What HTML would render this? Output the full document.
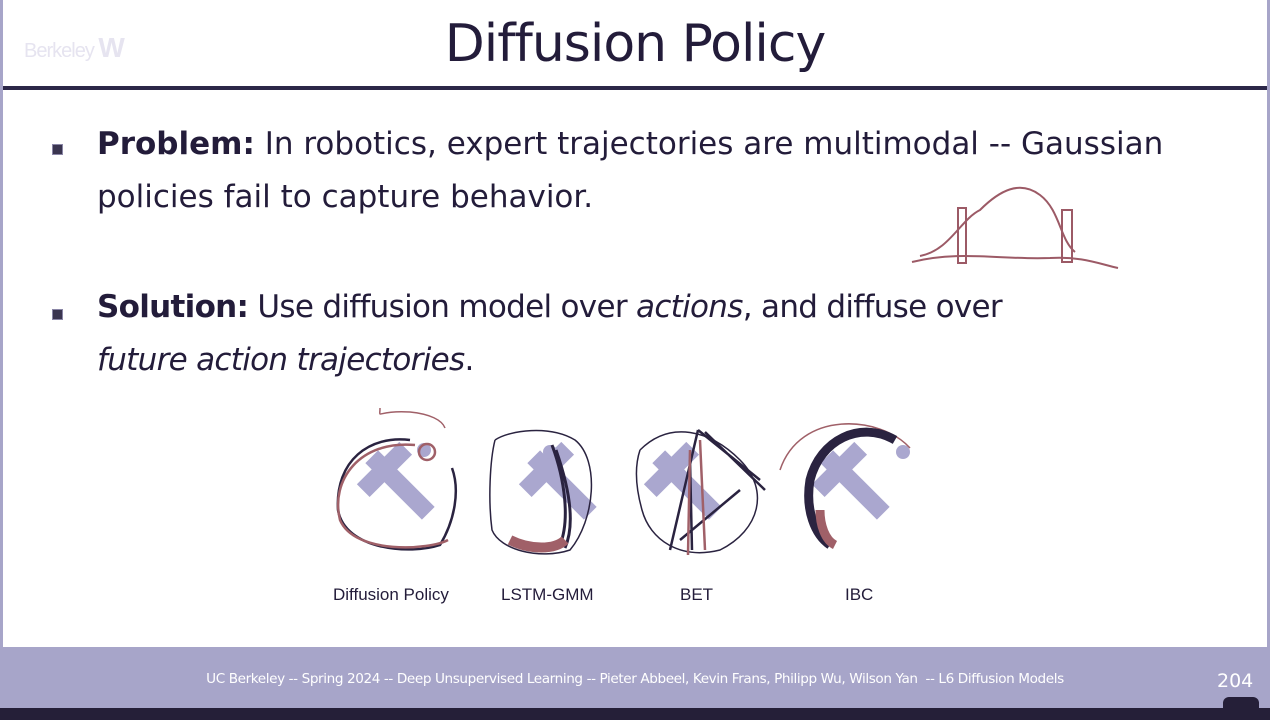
<!DOCTYPE html>
<html><head><meta charset="utf-8">
<style>
html,body{margin:0;padding:0}
body{width:1270px;height:720px;position:relative;overflow:hidden;background:#fff;font-family:"Liberation Sans","DejaVu Sans",sans-serif;color:#231c3a}
.abs{position:absolute}
.title{left:0;width:1270px;top:14px;text-align:center;font-family:"DejaVu Sans",sans-serif;font-size:52px;letter-spacing:-1px;color:#231c3a}
.rule{left:3px;width:1264px;top:86px;height:4px;background:#2c2748}
.bul{width:9px;height:9px;background:#3a3550;border:1px solid #8a86a6}
.txt{font-family:"DejaVu Sans",sans-serif;font-size:31px;line-height:53px;color:#231c3a;letter-spacing:0px}
.footer{left:0;top:647px;width:1270px;height:61px;background:#a7a5c9}
.foot-t{left:0;width:1270px;top:671px;text-align:center;font-family:"DejaVu Sans",sans-serif;font-size:13.6px;color:#fff;letter-spacing:-0.4px}
.cap{font-family:"Liberation Sans",sans-serif;font-size:17px;color:#231c3a}
</style></head><body>
<div class="abs" style="left:0;top:0;width:3px;height:647px;background:#a7a5c9"></div>
<div class="abs" style="right:0;top:0;width:3px;height:647px;background:#a7a5c9"></div>
<div class="abs" style="left:24px;top:32px;font-size:20px;color:#e6e4f0;letter-spacing:-1px">Berkeley <b style="font-size:28px">W</b></div>
<div class="abs title">Diffusion Policy</div>
<div class="abs rule"></div>

<div class="abs bul" style="left:52px;top:144px"></div>
<div class="abs txt" style="left:97px;top:118px;width:1150px"><b>Problem:</b> In robotics, expert trajectories are multimodal -- Gaussian<br>policies fail to capture behavior.</div>
<div class="abs bul" style="left:52px;top:309px"></div>
<div class="abs txt" style="left:97px;top:281px;width:1150px;letter-spacing:-0.7px"><b>Solution:</b> Use diffusion model over <i>actions</i>, and diffuse over<br><i>future action trajectories</i>.</div>

<svg class="abs" style="left:900px;top:180px" width="230" height="100">
<path d="M12 82 C60 70 100 80 150 78 C180 76 200 84 218 88" stroke="#9c5a66" fill="none" stroke-width="2"/>
<path d="M20 76 C50 70 60 40 80 30 C100 10 120 0 140 15 C160 30 160 60 175 72" stroke="#9c5a66" fill="none" stroke-width="2"/>
<rect x="58" y="28" width="8" height="55" fill="none" stroke="#9c5a66" stroke-width="2"/>
<rect x="162" y="30" width="10" height="52" fill="none" stroke="#9c5a66" stroke-width="2"/>
</svg>

<svg class="abs" style="left:320px;top:400px" width="620" height="170">
<g fill="#aaa7cf">
<g transform="translate(80,85) rotate(45)"><rect x="-40" y="-9" width="80" height="18"/><rect x="-30" y="-9" width="60" height="18" transform="translate(-22,0) rotate(90)"/></g>
<g transform="translate(242,85) rotate(45)"><rect x="-40" y="-9" width="80" height="18"/><rect x="-30" y="-9" width="60" height="18" transform="translate(-22,0) rotate(90)"/></g>
<g transform="translate(367,85) rotate(45)"><rect x="-40" y="-9" width="80" height="18"/><rect x="-30" y="-9" width="60" height="18" transform="translate(-22,0) rotate(90)"/></g>
<g transform="translate(535,85) rotate(45)"><rect x="-40" y="-9" width="80" height="18"/><rect x="-30" y="-9" width="60" height="18" transform="translate(-22,0) rotate(90)"/></g>
<circle cx="104" cy="50" r="7"/><circle cx="230" cy="52" r="7"/><circle cx="583" cy="52" r="7"/>
</g>
<g fill="none" stroke-width="2.5">
<path d="M90 40 C50 35 15 60 18 110 C25 150 90 155 120 145 C135 120 140 90 132 68" stroke="#2a2340"/>
<path d="M95 45 C40 40 10 80 20 120 C35 155 110 150 128 140" stroke="#a06068"/>
<path d="M60 8 C60 20 55 10 90 12 C110 14 122 20 125 28" stroke="#a06068" stroke-width="1.5"/>
<circle cx="107" cy="52" r="8" stroke="#a06068"/>
<path d="M175 40 C190 30 230 25 255 40 C280 60 275 120 250 150 C220 160 180 150 172 130 C168 100 170 60 175 40" stroke="#2a2340" stroke-width="1.5"/>
<path d="M232 45 C245 80 250 120 240 145 M236 50 C250 90 255 125 245 148" stroke="#2a2340" stroke-width="3"/>
<path d="M190 140 C210 150 235 150 245 140" stroke="#a06068" stroke-width="10"/>
<path d="M320 50 C350 20 390 30 420 60 C450 90 440 130 400 150 C360 160 330 140 322 110 C315 85 315 65 320 50" stroke="#2a2340" stroke-width="1.5"/>
<path d="M378 30 L440 80 M385 32 L445 90 M378 30 L350 150 M370 60 L372 150 M420 90 L360 140" stroke="#2a2340"/>
<path d="M370 50 L368 155 M380 40 L385 150" stroke="#a06068"/>
<path d="M460 70 C480 10 560 15 590 48" stroke="#a06068" stroke-width="1.5"/>
<path d="M575 40 C540 20 500 40 490 80 C485 110 495 135 510 145" stroke="#2a2340" stroke-width="9"/>
<path d="M500 110 C500 125 505 140 515 145" stroke="#a06068" stroke-width="9"/>
</g>
</svg>
<div class="abs cap" style="left:333px;top:585px">Diffusion Policy</div>
<div class="abs cap" style="left:501px;top:585px">LSTM-GMM</div>
<div class="abs cap" style="left:680px;top:585px">BET</div>
<div class="abs cap" style="left:845px;top:585px">IBC</div>

<div class="abs footer"></div>
<div class="abs foot-t">UC Berkeley -- Spring 2024 -- Deep Unsupervised Learning -- Pieter Abbeel, Kevin Frans, Philipp Wu, Wilson Yan &nbsp;-- L6 Diffusion Models</div>
<div class="abs" style="left:1217px;top:670px;font-family:'DejaVu Sans',sans-serif;font-size:19px;color:#fff">204</div>
<div class="abs" style="left:0;top:708px;width:1270px;height:12px;background:#251f38"></div>
<div class="abs" style="left:1223px;top:697px;width:36px;height:14px;background:#251f38;border-radius:6px 6px 0 0"></div>
</body></html>
